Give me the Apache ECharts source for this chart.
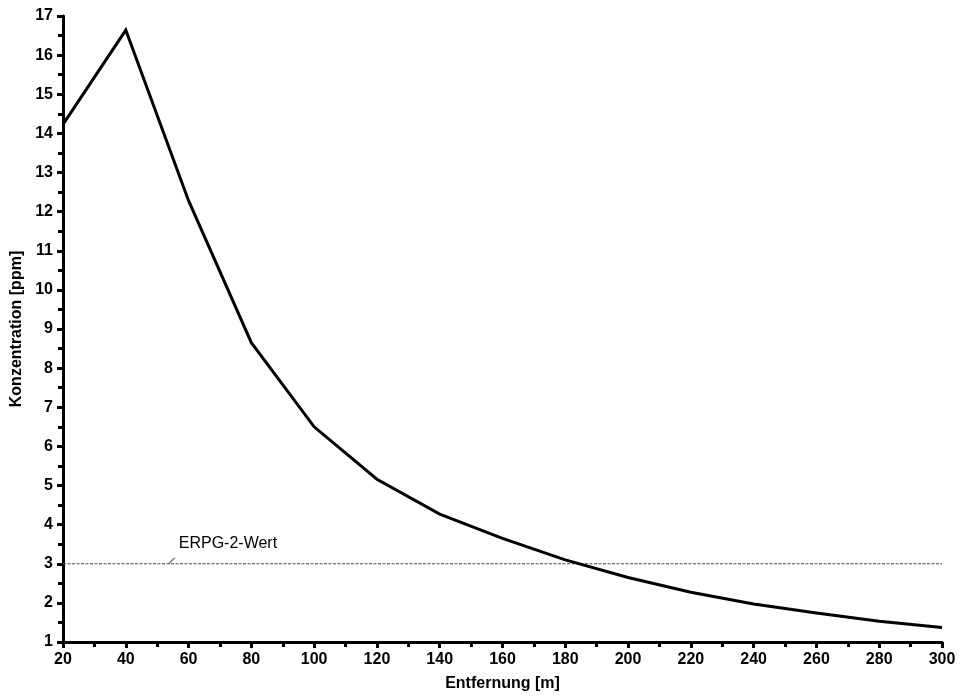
<!DOCTYPE html>
<html>
<head>
<meta charset="utf-8">
<script src="https://cdn.jsdelivr.net/npm/echarts@6/dist/echarts.min.js"></script>
<style>
html,body{margin:0;padding:0;background:#fff;}
#c{width:963px;height:697px;}
</style>
</head>
<body>
<div id="c"></div>
<script>
const distances = [20, 40, 60, 80, 100, 120, 140, 160, 180, 200, 220, 240, 260, 280, 300];
const concentration = [14.23, 16.64, 12.28, 8.65, 6.5, 5.16, 4.27, 3.65, 3.1, 2.65, 2.27, 1.97, 1.74, 1.53, 1.37];
const thresholdX = [20, 300];
const thresholdValue = 3;
const thresholdLabel = 'ERPG-2-Wert';
const thresholdLabelAt = 54;
const xTitle = 'Entfernung [m]';
const yTitle = 'Konzentration [ppm]';

const font = 'Liberation Sans, Arial, Helvetica, sans-serif';
const chart = echarts.init(document.getElementById('c'), null, {renderer: 'canvas'});

const axisCommon = {
  axisLine: {show: true, onZero: false, lineStyle: {color: '#000', width: 3}},
  axisTick: {show: true, inside: false, length: 6, lineStyle: {color: '#000', width: 3}},
  minorTick: {show: true, splitNumber: 2, length: 5, lineStyle: {color: '#000', width: 3}},
  splitLine: {show: false},
  nameTextStyle: {color: '#000', fontFamily: font, fontWeight: 'bold', fontSize: 16}
};

chart.setOption({
  animation: false,
  backgroundColor: '#fff',
  grid: {left: 63, right: 21, top: 16, bottom: 54, containLabel: false},
  xAxis: Object.assign({}, axisCommon, {
    type: 'value', min: 20, max: 300, interval: 20,
    name: xTitle, nameLocation: 'middle', nameGap: 34,
    axisLabel: {color: '#000', fontFamily: font, fontWeight: 'bold', fontSize: 16, margin: 10}
  }),
  yAxis: Object.assign({}, axisCommon, {
    type: 'value', min: 1, max: 17, interval: 1,
    name: yTitle, nameLocation: 'middle', nameGap: 36, nameRotate: 90,
    axisLabel: {color: '#000', fontFamily: font, fontWeight: 'bold', fontSize: 16, margin: 10}
  }),
  series: [
    {
      type: 'line', name: thresholdLabel,
      data: thresholdX.map(x => [x, thresholdValue]),
      showSymbol: false, symbol: 'none', silent: true,
      lineStyle: {color: '#444', width: 1, type: [3, 1.5]},
      z: 1
    },
    {
      type: 'line', name: 'Konzentration',
      data: distances.map((d, i) => [d, concentration[i]]),
      showSymbol: false, symbol: 'none',
      lineStyle: {color: '#000', width: 3, join: 'miter'},
      z: 2
    }
  ]
});

const p = chart.convertToPixel({gridIndex: 0}, [thresholdLabelAt, thresholdValue]);
chart.setOption({
  graphic: [
    {type: 'line', shape: {x1: p[0] - 1, y1: p[1], x2: p[0] + 5, y2: p[1] - 6},
     style: {stroke: '#000', lineWidth: 1}},
    {type: 'text', left: p[0] + 9, top: p[1] - 28,
     style: {text: thresholdLabel, fill: '#000', font: '16px ' + font}}
  ]
});
</script>
</body>
</html>
